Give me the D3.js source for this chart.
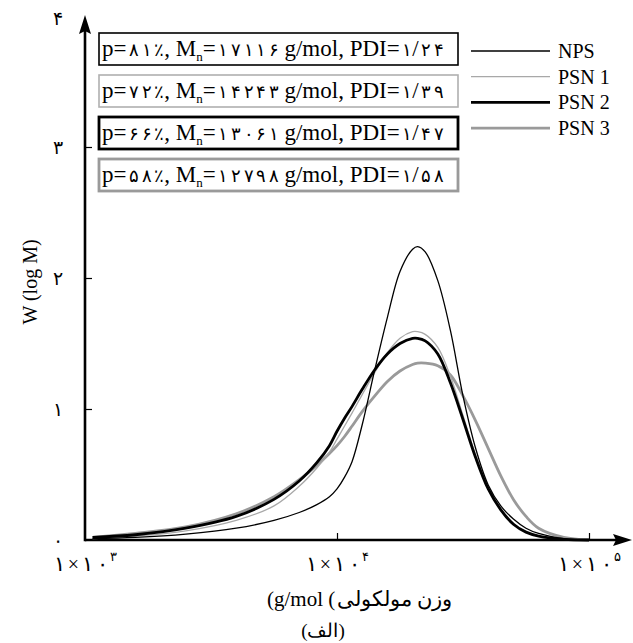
<!DOCTYPE html>
<html>
<head>
<meta charset="utf-8">
<script src="https://cdn.jsdelivr.net/npm/d3@7/dist/d3.min.js"></script>
<style>
  html, body { margin: 0; padding: 0; background: #fff; }
  svg { display: block; }
  text { font-family: "Liberation Serif", "Times New Roman", serif; fill: #000; }
</style>
</head>
<body>
<svg id="chart" width="633" height="643"></svg>
<script>
// Molecular weight distribution curves, x = log10(M)
const logM       = [3.03, 3.2, 3.4, 3.6, 3.75, 3.85, 3.92, 3.97, 4.0, 4.03, 4.06, 4.1, 4.15, 4.2, 4.25, 4.3, 4.32, 4.35, 4.4, 4.45, 4.5, 4.55, 4.6, 4.65, 4.7, 4.75, 4.8, 4.9, 5.0];
const npsValues  = [0.01, 0.02, 0.045, 0.09, 0.15, 0.21, 0.27, 0.33, 0.39, 0.48, 0.6, 0.88, 1.3, 1.7, 2.05, 2.22, 2.24, 2.2, 1.98, 1.6, 1.1, 0.7, 0.42, 0.26, 0.16, 0.09, 0.05, 0.01, 0.0];
const psn1Values = [0.01, 0.03, 0.07, 0.15, 0.26, 0.41, 0.55, 0.67, 0.77, 0.87, 0.97, 1.11, 1.28, 1.43, 1.54, 1.59, 1.59, 1.57, 1.47, 1.25, 0.95, 0.65, 0.41, 0.24, 0.13, 0.06, 0.03, 0.005, 0.0];
const psn2Values = [0.02, 0.04, 0.09, 0.18, 0.31, 0.45, 0.59, 0.72, 0.83, 0.93, 1.02, 1.15, 1.3, 1.42, 1.5, 1.54, 1.54, 1.52, 1.42, 1.2, 0.92, 0.63, 0.39, 0.23, 0.12, 0.06, 0.03, 0.005, 0.0];
const psn3Values = [0.02, 0.05, 0.1, 0.2, 0.33, 0.46, 0.57, 0.66, 0.72, 0.79, 0.87, 0.98, 1.1, 1.21, 1.29, 1.34, 1.35, 1.35, 1.33, 1.26, 1.1, 0.91, 0.7, 0.49, 0.31, 0.18, 0.09, 0.02, 0.0];

const seriesNames  = ["NPS", "PSN 1", "PSN 2", "PSN 3"];
const seriesColors = ["#000000", "#a8a8a8", "#000000", "#9a9a9a"];
const seriesWidths = [1.3, 1.3, 2.8, 2.8];

// Sample properties shown in the framed boxes
const purity = [81, 72, 66, 58];
const mnValues = [17116, 14243, 13061, 12798];
const pdiValues = [1.24, 1.39, 1.47, 1.58];

const yTicks = [0, 1, 2, 3, 4];
const xTicks = [3, 4, 5];

const fa = s => String(s).replace(/\d/g, c => "۰۱۲۳۴۵۶۷۸۹"[+c]);

// Appends text runs; Persian digits get their own size and are spaced one by one
function appendRuns(textSel, str, latinSize, digitSize, gap) {
  const runs = str.match(/[۰-۹٪]+|[^۰-۹٪]+/g);
  runs.forEach(r => {
    if (/[۰-۹٪]/.test(r)) {
      Array.from(r).forEach(c => {
        textSel.append("tspan").attr("font-size", digitSize).attr("dx", gap).text(c);
      });
    } else {
      textSel.append("tspan").attr("font-size", latinSize).text(r);
    }
  });
}

const svg = d3.select("#chart");
const x = d3.scaleLinear().domain([3, 5]).range([85, 589]);
const y = d3.scaleLinear().domain([0, 4]).range([540, 16]);

// Axes: lines with arrow heads
svg.append("line").attr("x1", x(3)).attr("x2", 622).attr("y1", y(0)).attr("y2", y(0))
  .attr("stroke", "#000").attr("stroke-width", 2.6);
svg.append("line").attr("x1", x(3)).attr("x2", x(3)).attr("y1", y(0) + 1.3).attr("y2", 26)
  .attr("stroke", "#000").attr("stroke-width", 2.6);
svg.append("path").attr("d", `M632,${y(0)} L613,${y(0) - 6} L616,${y(0)} L613,${y(0) + 6} Z`).attr("fill", "#000");
svg.append("path").attr("d", `M${x(3)},15 L${x(3) - 6},34 L${x(3)},31 L${x(3) + 6},34 Z`).attr("fill", "#000");

// Y axis ticks (inside) and labels
const yAxis = d3.axisLeft(y).tickValues(yTicks).tickSizeInner(-7).tickSizeOuter(0).tickPadding(22)
  .tickFormat(d => fa(d));
const gy = svg.append("g").attr("transform", `translate(${x(3)},0)`).call(yAxis);
gy.select(".domain").remove();
gy.selectAll(".tick line").attr("stroke", "#000").attr("stroke-width", 1.2)
  .filter(d => d === 0 || d === 4).remove();
gy.selectAll(".tick text").attr("font-size", 19).attr("font-family", "'DejaVu Sans', sans-serif")
  .attr("dy", d => d === 4 ? "0.45em" : "0.32em");

// X axis ticks (inside) and labels: 1×10 with a raised exponent
const xAxis = d3.axisBottom(x).tickValues(xTicks).tickSizeInner(-7).tickSizeOuter(0).tickPadding(18)
  .tickFormat("");
const gx = svg.append("g").attr("transform", `translate(0,${y(0)})`).call(xAxis);
gx.select(".domain").remove();
gx.selectAll(".tick line").attr("stroke", "#000").attr("stroke-width", 1.2)
  .filter(d => d === 3).remove();
gx.selectAll(".tick text").each(function(d) {
  const t = d3.select(this).attr("font-family", "'DejaVu Sans', sans-serif")
    .attr("y", 31).attr("dy", null);
  t.append("tspan").attr("font-size", 21).text(fa("1"));
  t.append("tspan").attr("font-size", 20).attr("font-family", "'Liberation Serif', serif").attr("dx", 3).text("×");
  t.append("tspan").attr("font-size", 21).attr("dx", 3).text(fa("1"));
  t.append("tspan").attr("font-size", 21).attr("dx", 4).text(fa("0"));
  t.append("tspan").attr("font-size", 13).attr("dx", 2).attr("dy", -10).text(fa(d));
});

// Axis titles
svg.append("text").attr("transform", "translate(37,282) rotate(-90)")
  .attr("text-anchor", "middle").attr("font-size", 20).text("W (log M)");
svg.append("text").attr("x", 267).attr("y", 606).attr("font-size", 21)
  .attr("direction", "ltr").attr("unicode-bidi", "bidi-override").text("(g/mol (");
svg.append("text").attr("x", 452).attr("y", 606).attr("text-anchor", "end")
  .attr("font-size", 21).text("وزن مولکولی");
svg.append("text").attr("x", 323).attr("y", 637).attr("text-anchor", "middle")
  .attr("direction", "rtl").attr("font-size", 19).text("(الف)");

// Curves
const allValues = [npsValues, psn1Values, psn2Values, psn3Values];
const line = d3.line().x((d, i) => x(logM[i])).y(d => y(d)).curve(d3.curveCatmullRom.alpha(0.5));
const order = [3, 1, 2, 0];
order.forEach(k => {
  svg.append("path").datum(allValues[k]).attr("d", line)
    .attr("fill", "none").attr("stroke", seriesColors[k]).attr("stroke-width", seriesWidths[k]);
});

// Framed property boxes
const boxTop = [33, 75, 117, 159];
const boxStroke = ["#000", "#b0b0b0", "#000", "#9a9a9a"];
const boxWidth = [1.6, 1.6, 2.8, 2.8];
purity.forEach((p, i) => {
  svg.append("rect").attr("x", 99).attr("y", boxTop[i]).attr("width", 359).attr("height", 32)
    .attr("fill", "#fff").attr("stroke", boxStroke[i]).attr("stroke-width", boxWidth[i]);
  const t = svg.append("text").attr("x", 102).attr("y", boxTop[i] + 23);
  appendRuns(t, "p=" + fa(p) + "٪, M", 23, 18, 2.6);
  t.append("tspan").attr("font-size", 13).attr("dy", 5).text("n");
  t.append("tspan").attr("font-size", 23).attr("dy", -5).text("=");
  appendRuns(t, fa(mnValues[i]) + " g/mol, PDI=" + fa(pdiValues[i].toFixed(2)).replace(".", "/"), 23, 18, 2.6);
});

// Legend
seriesNames.forEach((name, i) => {
  const ly = 51 + i * 25.7;
  svg.append("line").attr("x1", 471).attr("x2", 550).attr("y1", ly).attr("y2", ly)
    .attr("stroke", seriesColors[i]).attr("stroke-width", seriesWidths[i]);
  svg.append("text").attr("x", 558).attr("y", ly + 7).attr("font-size", 20).text(name);
});
</script>
</body>
</html>
